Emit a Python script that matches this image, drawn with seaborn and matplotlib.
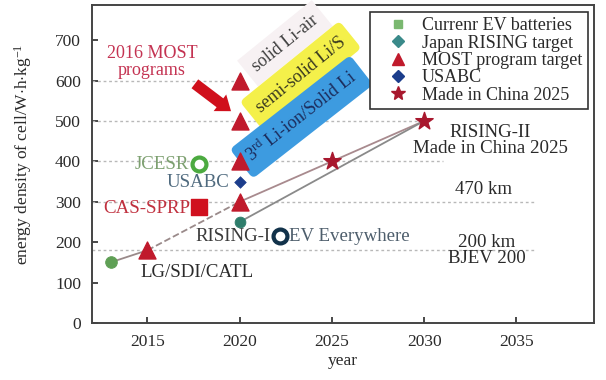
import matplotlib
matplotlib.use("Agg")
import matplotlib.pyplot as plt
import pandas as pd
import seaborn as sns
from matplotlib.lines import Line2D

# ------------------------------------------------------------------
# data
# ------------------------------------------------------------------
current_years = [2013]
current_vals = [150]

most_years = [2015, 2020, 2020, 2020, 2020]
most_vals = [180, 300, 400, 500, 600]

rising_years = [2020]
rising_vals = [250]

usabc_years = [2020]
usabc_vals = [350]

china_years = [2025, 2030]
china_vals = [400, 500]

# other programs (open markers / square)
jcesr = (2017.8, 393)
cas_sprp = (2017.8, 288)
ev_everywhere = (2022.2, 216)

# trend lines
trend_a_years = [2013, 2015]
trend_a_vals = [150, 180]
trend_b_years = [2015, 2020]
trend_b_vals = [180, 300]
trend_c_years = [2020, 2025, 2030]
trend_c_vals = [300, 400, 500]
trend_d_years = [2020, 2030]
trend_d_vals = [250, 500]

# dotted reference levels: (value, end year)
ref_levels = [(600, 2020), (500, 2030), (400, 2031), (300, 2036), (180, 2036)]

x_ticks = [2015, 2020, 2025, 2030, 2035]
y_ticks = [0, 100, 200, 300, 400, 500, 600, 700]

# ------------------------------------------------------------------
sns.set_style("ticks")
plt.rcParams['font.family'] = ['Liberation Serif', 'DejaVu Serif']
plt.rcParams['mathtext.fontset'] = 'custom'
plt.rcParams['mathtext.rm'] = 'Liberation Serif'
plt.rcParams['mathtext.it'] = 'Liberation Serif:italic'

c_green = "#5f9f55"
c_teal = "#2f7e6c"
c_red = "#c01a2c"
c_navy = "#1c3d8c"
c_star = "#a8182e"
c_line = "#9a8a8a"
c_txt = "#2a2a2a"
fs_txt = 13.6

fig = plt.figure(figsize=(6.06, 3.8), dpi=100)
ax = fig.add_axes([0.152, 0.150, 0.828, 0.837])

for val, end in ref_levels:
    ax.plot([2012, end], [val, val], color="#b8b8b8", lw=1.0, ls=(0, (2, 2)), zorder=1)

# trend lines
sns.lineplot(x=trend_a_years, y=trend_a_vals, ax=ax, color=c_line, lw=1.3, zorder=2)
sns.lineplot(x=trend_b_years, y=trend_b_vals, ax=ax, color=c_line, lw=1.3, ls="--", zorder=2)
sns.lineplot(x=trend_c_years, y=trend_c_vals, ax=ax, color="#a88a8e", lw=1.3, zorder=2)
sns.lineplot(x=trend_d_years, y=trend_d_vals, ax=ax, color="#8a8a8a", lw=1.3, zorder=2)

# markers
sns.scatterplot(x=current_years, y=current_vals, ax=ax, marker="o", s=70, color=c_green,
                edgecolor=c_green, zorder=4)
sns.scatterplot(x=most_years, y=most_vals, ax=ax, marker="^", s=150, color=c_red,
                edgecolor=c_red, zorder=4)
sns.scatterplot(x=rising_years, y=rising_vals, ax=ax, marker="o", s=60, color=c_teal,
                edgecolor=c_teal, zorder=4)
sns.scatterplot(x=usabc_years, y=usabc_vals, ax=ax, marker="D", s=35, color=c_navy,
                edgecolor=c_navy, zorder=4)
sns.scatterplot(x=china_years, y=china_vals, ax=ax, marker="*", s=170, color=c_star,
                edgecolor=c_star, zorder=5)
ax.scatter([jcesr[0]], [jcesr[1]], s=100, facecolor="white", edgecolor="#4caa40", lw=3, zorder=4)
ax.scatter([cas_sprp[0]], [cas_sprp[1]], s=120, marker="s", color="#d0101e", zorder=4)
ax.scatter([ev_everywhere[0]], [ev_everywhere[1]], s=100, facecolor="white", edgecolor="#12324a",
           lw=3, zorder=4)

# text labels
ax.text(2015.25, 646, "2016 MOST\nprograms", color="#c43352", fontsize=13, ha="center",
        va="center", linespacing=0.95)
ax.text(jcesr[0] - 0.55, jcesr[1], "JCESR", color="#7da070", fontsize=fs_txt, ha="right", va="center")
ax.text(2019.45, 347, "USABC", color="#4f6a7e", fontsize=fs_txt, ha="right", va="center")
ax.text(cas_sprp[0] - 0.5, 284, "CAS-SPRP", color="#c0303e", fontsize=fs_txt, ha="right", va="center")
ax.text(ev_everywhere[0] - 0.55, 214, "RISING-I", color="#3a3a3a", fontsize=fs_txt, ha="right", va="center")
ax.text(ev_everywhere[0] + 0.5, 214, "EV Everywhere", color="#4e5e6c", fontsize=fs_txt, ha="left", va="center")
ax.text(2014.6, 125, "LG/SDI/CATL", color=c_txt, fontsize=fs_txt, ha="left", va="center")
ax.text(2033.6, 452, "RISING-II\nMade in China 2025", color=c_txt, fontsize=fs_txt,
        ha="center", va="center", linespacing=0.95)
ax.text(2033.2, 330, "470 km", color=c_txt, fontsize=fs_txt, ha="center", va="center")
ax.text(2033.4, 180, "200 km\nBJEV 200", color=c_txt, fontsize=fs_txt, ha="center",
        va="center", linespacing=0.95)

# rotated technology boxes
ax.text(2022.45, 692, "solid Li-air", rotation=39, fontsize=13, color="#404040", ha="center",
        va="center", rotation_mode="anchor",
        bbox=dict(boxstyle="square,pad=0.45", fc="#f7f1f3", ec="none"))
ax.text(2023.3, 614, "semi-solid Li/S", rotation=39, fontsize=13, color="#3a3a20", ha="center",
        va="center", rotation_mode="anchor",
        bbox=dict(boxstyle="round,pad=0.5,rounding_size=0.3", fc="#f4f04a", ec="none"))
ax.text(2023.35, 510, r"3$^{\rm rd}$ Li-ion/Solid Li", rotation=38, fontsize=13, color="#1c2c5c",
        ha="center", va="center", rotation_mode="anchor",
        bbox=dict(boxstyle="round,pad=0.5,rounding_size=0.3", fc="#3d9be0", ec="none"))

# big red arrow
ax.annotate("", xy=(2019.65, 520), xytext=(2017.45, 596),
            arrowprops=dict(arrowstyle="simple,head_width=1.5,head_length=1.0,tail_width=0.8",
                            color="#d0101c", lw=0))

# legend
handles = [
    Line2D([], [], ls="none", marker="s", ms=6, color="#7ab870"),
    Line2D([], [], ls="none", marker="D", ms=6, color="#3a8a8a"),
    Line2D([], [], ls="none", marker="^", ms=9, color=c_red),
    Line2D([], [], ls="none", marker="D", ms=6, color=c_navy),
    Line2D([], [], ls="none", marker="*", ms=10, color=c_star),
]
labels = ["Currenr EV batteries", "Japan RISING target", "MOST program target", "USABC",
          "Made in China 2025"]
leg = ax.legend(handles, labels, loc="upper right", bbox_to_anchor=(0.988, 0.978), fontsize=13,
                frameon=True, fancybox=False, edgecolor="#333333", framealpha=1,
                labelspacing=0.02, handletextpad=0.1, handlelength=2.5, borderpad=0.3,
                borderaxespad=0)
leg.get_frame().set_linewidth(1.2)
leg.set_zorder(10)
for t in leg.get_texts():
    t.set_color(c_txt)

ax.set_xlim(2012, 2039.2)
ax.set_ylim(0, 787)
ax.set_xticks(x_ticks)
ax.set_yticks(y_ticks)
ax.tick_params(direction="in", length=4, width=1.2, labelsize=12.5, colors=c_txt)
ax.tick_params(axis="x", pad=8)
ax.tick_params(axis="y", pad=8)
for sp in ax.spines.values():
    sp.set_linewidth(1.4)
    sp.set_color("#444444")
ax.set_xlabel("year", fontsize=12.5, color=c_txt, labelpad=2)
ax.set_ylabel(r"energy density of cell/W$\cdot$h$\cdot$kg$^{-1}$", fontsize=12.5, color=c_txt,
              labelpad=8)
ax.yaxis.set_label_coords(-0.115, 0.53)

fig.savefig("out.png", dpi=100)
